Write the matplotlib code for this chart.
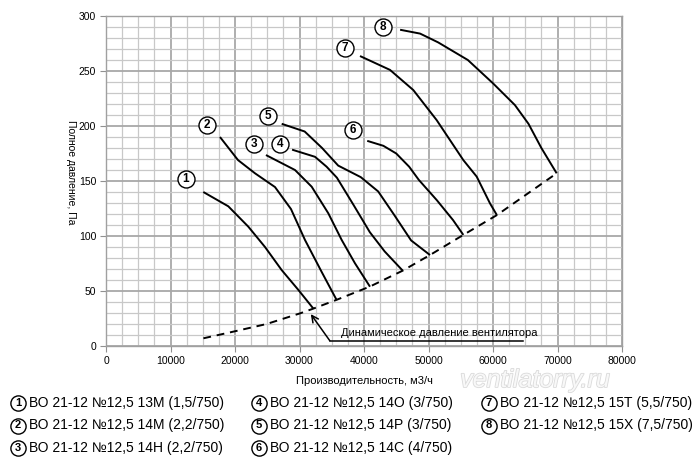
import matplotlib
matplotlib.use('Agg')
import matplotlib.pyplot as plt
import matplotlib.patheffects as pe
import numpy as np

plt.rcParams['font.family'] = ['Liberation Sans', 'DejaVu Sans']

# ---- data (flow m3/h, total pressure Pa) ----
q1 = [15090, 18960, 22060, 24650, 27240, 29820, 32150]
p1 = [140, 127, 108.5, 90, 69, 51, 34]
q2 = [17670, 20470, 23100, 26200, 28680, 30850, 33440, 35760]
p2 = [190, 169, 157, 144.5, 124.5, 96.4, 67.3, 41.8]
q3 = [24800, 29300, 31890, 34470, 36540, 38600, 40930]
p3 = [173.6, 160, 144.8, 120.6, 96.4, 75.2, 53.9]
q4 = [28850, 32400, 34200, 35800, 38400, 40900, 43200, 46000]
p4 = [178.5, 172, 163, 153, 128, 103.5, 86, 68.5]
q5 = [27240, 30800, 33500, 36000, 39500, 42200, 44700, 47300, 50230]
p5 = [202, 195, 180, 164, 153.5, 140.5, 119, 96, 82.7]
q6 = [40500, 43000, 45000, 47000, 48500, 51300, 53800, 55400]
p6 = [186.5, 182, 175, 163, 151, 132.5, 114.5, 101]
q7 = [39380, 44030, 47640, 51260, 55400, 57470, 59530, 60600]
p7 = [263.6, 251, 232.7, 205.4, 169, 154, 129.7, 119]
q8 = [45600, 48700, 51500, 56100, 60000, 63400, 65500, 67500, 69870]
p8 = [287.5, 284, 276, 260, 238.8, 219, 202, 180, 157]

dyn_q = [15100, 19700, 24900, 30100, 32150, 35760, 40900, 46000, 50230, 55400, 60600, 69870]
dyn_p = [7, 13, 20, 29.7, 34, 42, 54, 68.5, 82.7, 101, 119, 157]

curve_ids = ['1', '2', '3', '4', '5', '6', '7', '8']
legend_labels = [
    'ВО 21-12 №12,5 13М (1,5/750)',
    'ВО 21-12 №12,5 14М (2,2/750)',
    'ВО 21-12 №12,5 14Н (2,2/750)',
    'ВО 21-12 №12,5 14О (3/750)',
    'ВО 21-12 №12,5 14Р (3/750)',
    'ВО 21-12 №12,5 14С (4/750)',
    'ВО 21-12 №12,5 15Т (5,5/750)',
    'ВО 21-12 №12,5 15Х (7,5/750)',
]
x_label = 'Производительность, м3/ч'
y_label = 'Полное давление, Па'
dyn_label = 'Динамическое давление вентилятора'

# ---- layout ----
label_pos = [(12400, 151.5), (15710, 201), (22990, 183.6), (26980, 183.6),
             (25070, 209), (38250, 196.4), (37050, 271.2), (42990, 290.3)]

fig = plt.figure(figsize=(7, 4.67), dpi=100)
ax = fig.add_axes([106 / 700, 1 - 346 / 467, 516 / 700, 330 / 467])
ax.set_xlim(0, 80000)
ax.set_ylim(0, 300)
ax.set_xticks(np.arange(0, 80001, 10000))
ax.set_yticks(np.arange(0, 301, 50))
ax.set_xticks(np.arange(0, 80001, 2500), minor=True)
ax.set_yticks(np.arange(0, 301, 10), minor=True)
ax.grid(which='major', color='#a8a8a8', lw=1.3)
ax.grid(which='minor', color='#c8c8c8', lw=0.9)
ax.set_axisbelow(True)
ax.tick_params(which='minor', length=0)
ax.tick_params(which='major', length=4, color='#909090', labelsize=7.5, pad=3)
for s in ax.spines.values():
    s.set_color('#a0a0a0')
    s.set_linewidth(1.0)

qs = [q1, q2, q3, q4, q5, q6, q7, q8]
ps = [p1, p2, p3, p4, p5, p6, p7, p8]
for q, p in zip(qs, ps):
    ax.plot(q, p, color='black', lw=1.4, solid_capstyle='butt',
            solid_joinstyle='round', zorder=3)

ax.plot(dyn_q, dyn_p, color='black', lw=1.4, dashes=(4, 3), zorder=3)

# circled curve labels
for cid, (lx, ly) in zip(curve_ids, label_pos):
    ax.scatter([lx], [ly], s=150, facecolor='white', edgecolor='black',
               linewidth=1.0, zorder=5)
    ax.text(lx, ly, cid, ha='center', va='center', fontsize=8.5,
            fontweight='bold', zorder=6)

# dynamic pressure annotation
ax.annotate('', xy=(31750, 29), xytext=(34700, 4.8),
            arrowprops=dict(arrowstyle='->', color='black', lw=1.1,
                            shrinkA=0, shrinkB=0, mutation_scale=12), zorder=4)
ax.plot([34700, 64600], [4.8, 4.8], color='black', lw=1.1, zorder=4)
ax.text(36500, 7.5, dyn_label, fontsize=8, ha='left', va='bottom', zorder=4)

fig.text(364 / 700, 1 - 381 / 467, x_label, ha='center', va='center', fontsize=8)
fig.text(71 / 700, 1 - 172 / 467, y_label, ha='center', va='center',
         fontsize=7.5, rotation=270)

# legend overlay in pixel coordinates
lay = fig.add_axes([0, 0, 1, 1], facecolor='none')
lay.set_xlim(0, 700)
lay.set_ylim(467, 0)
lay.axis('off')
col_x = [18, 259, 489]
row_y = [403, 425.5, 448]
for i, (cid, lab) in enumerate(zip(curve_ids, legend_labels)):
    cx = col_x[i // 3]
    cy = row_y[i % 3]
    lay.scatter([cx], [cy], s=120, facecolor='white', edgecolor='black',
                linewidth=1.0, zorder=5)
    lay.text(cx, cy, cid, ha='center', va='center', fontsize=8,
             fontweight='bold', zorder=6)
    lay.text(cx + 11, cy, lab, ha='left', va='center', fontsize=10)

lay.text(535, 380, 'ventilatorry.ru', ha='center', va='center', fontsize=18,
         style='italic', color='#f8f8f8', zorder=0.5,
         path_effects=[pe.withStroke(linewidth=1.2, foreground='#dadada')])

fig.savefig('out.png', dpi=100)
